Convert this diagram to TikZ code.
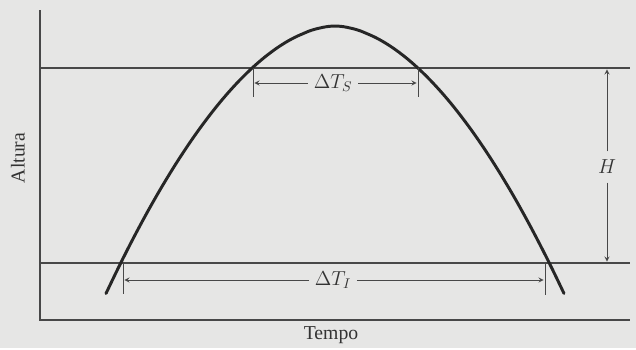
\documentclass[tikz,border=0pt]{standalone}
\usepackage{fontspec}
\setmainfont{Liberation Serif}
\definecolor{paper}{RGB}{230,230,229}
\definecolor{ink}{RGB}{72,72,72}
\tikzset{
  guide/.style={ink, line width=0.9pt},
  trace/.style={black!85, line width=2.1pt, line cap=round},
  tickmark/.style={ink, line width=0.7pt},
  dim/.style={ink, line width=0.6pt, ->, >=stealth, shorten >=1pt},
  lbl/.style={text=black!80, font=\fontsize{14}{16}\selectfont, inner sep=4pt}
}

\begin{document}
\begin{tikzpicture}[x=0.025cm, y=-0.025cm]
\fill[paper] (0,0) rectangle (636,348);

% axes and the two levels
\coordinate (top) at (40,10);
\coordinate (orig) at (40,320);
\coordinate (xend) at (630,320);
\coordinate (supL) at (40,68);
\coordinate (supR) at (630,68);
\coordinate (infL) at (40,263);
\coordinate (infR) at (630,263);
\draw[guide] (top) -- (orig) -- (xend);
\draw[guide] (supL) -- (supR);
\draw[guide] (infL) -- (infR);
\node[lbl, rotate=90] (altura) at (18,158) {Altura};
\node[lbl] (tempo) at (331,335) {Tempo};

% trajectory
\draw[trace] plot[domain=-1:1, samples=80, smooth]
  ({335+229*\x}, {26+267*exp(1.824*ln(abs(\x)+0.001))});

% ticks where the curve cuts the levels
\coordinate (s1) at (253,68);
\coordinate (s1b) at (253,97);
\coordinate (s2) at (418,68);
\coordinate (s2b) at (418,97);
\coordinate (i1) at (123,263);
\coordinate (i1b) at (123,294);
\coordinate (i2) at (545,263);
\coordinate (i2b) at (545,295);
\draw[tickmark] (s1) -- (s1b);
\draw[tickmark] (s2) -- (s2b);
\draw[tickmark] (i1) -- (i1b);
\draw[tickmark] (i2) -- (i2b);

% time intervals
\node[lbl] (dts) at (333,83) {$\Delta T_S$};
\draw[dim] (dts.west) -- (s1 |- dts);
\draw[dim] (dts.east) -- (s2 |- dts);
\node[lbl] (dti) at (333,280) {$\Delta T_I$};
\draw[dim] (dti.west) -- (i1 |- dti);
\draw[dim] (dti.east) -- (i2 |- dti);

% height
\node[lbl, inner sep=6pt] (hh) at (607,167) {$H$};
\draw[dim] (hh.north) -- (hh |- supR);
\draw[dim] (hh.south) -- (hh |- infR);

\end{tikzpicture}
\end{document}
